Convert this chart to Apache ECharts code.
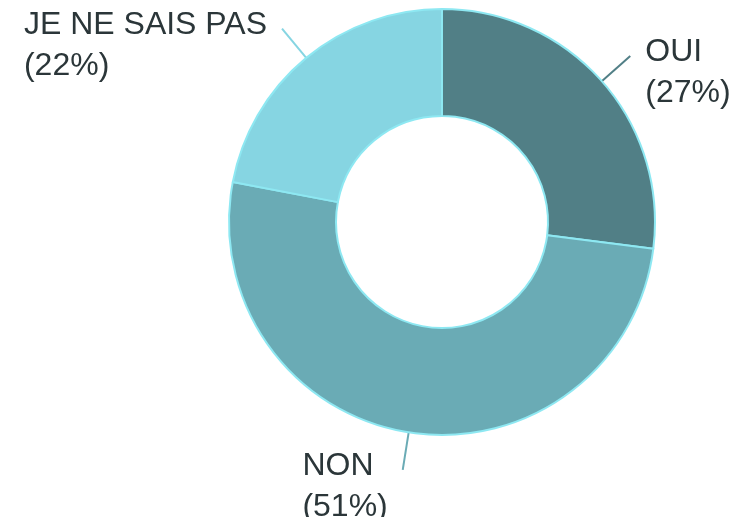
<!DOCTYPE html>
<html>
<head>
<meta charset="utf-8">
<script src="https://cdn.jsdelivr.net/npm/echarts@6/dist/echarts.min.js"></script>
<style>
  html, body { margin: 0; padding: 0; background: #fff; }
  #chart { width: 738px; height: 517px; }
</style>
</head>
<body>
<div id="chart"></div>
<script>
const categories = ['OUI', 'NON', 'JE NE SAIS PAS']
const values = [27, 51, 22]
const palette = ['#517f86', '#6aabb5', '#86d5e2']

const chart = echarts.init(document.getElementById('chart'))
chart.setOption({
  backgroundColor: '#fff',
  animation: false,
  series: [{
    type: 'pie',
    center: [442, 222],
    radius: [106, 213],
    startAngle: 90,
    clockwise: true,
    avoidLabelOverlap: false,
    itemStyle: {
      borderColor: '#8ee8f2',
      borderWidth: 2
    },
    label: {
      show: true,
      position: 'outside',
      formatter: '{t|{b}}\n{t|({d}%)}',
      padding: [34, 10, 0, 10],
      rich: {
        t: {
          align: 'left',
          fontFamily: 'Liberation Sans, Arial, sans-serif',
          fontSize: 32,
          lineHeight: 41,
          color: '#2b3639'
        }
      }
    },
    labelLine: {
      show: true,
      length: 38,
      length2: 0,
      lineStyle: { width: 2 }
    },
    data: categories.map((name, i) => ({
      name,
      value: values[i],
      itemStyle: { color: palette[i] }
    }))
  }]
})
</script>
</body>
</html>
